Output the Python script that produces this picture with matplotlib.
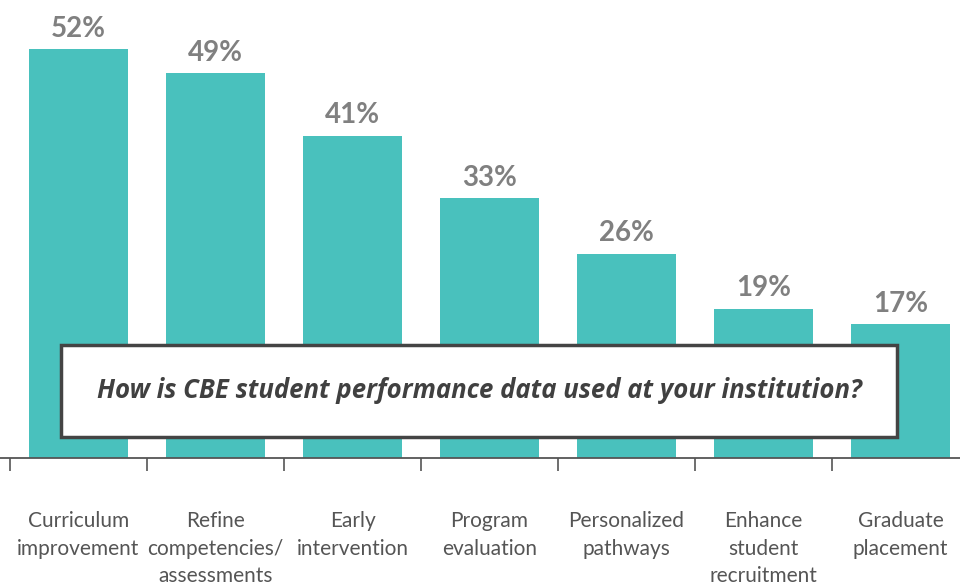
import matplotlib.pyplot as plt
from matplotlib.patches import Rectangle

categories = ["Curriculum\nimprovement", "Refine\ncompetencies/\nassessments", "Early\nintervention",
              "Program\nevaluation", "Personalized\npathways", "Enhance\nstudent\nrecruitment",
              "Graduate\nplacement"]
values = [52, 49, 41, 33, 26, 19, 17]
question = "How is CBE student performance data used at your institution?"

plt.rcParams['font.family'] = ['Lato', 'DejaVu Sans']

fig = plt.figure(figsize=(9.6, 5.84), dpi=100)
W, H = 960, 584
ax = fig.add_axes([0, (H - 458) / H, 1, 458 / H])

x = list(range(len(values)))
ax.bar(x, values, width=0.72, color="#49C1BD")

step = 137
ax.set_xlim(-0.5 - 10 / step, -0.5 + 950 / step)
ax.set_ylim(0, 458 / 7.865)

for xi, v in zip(x, values):
    ax.text(xi, v + 0.9, f"{v}%", ha="center", va="bottom", fontsize=20,
            fontweight="bold", color="#808080")

for s in ["top", "right", "left"]:
    ax.spines[s].set_visible(False)
ax.spines["bottom"].set_color("#555555")
ax.spines["bottom"].set_linewidth(1.3)
ax.set_yticks([])
ax.set_xticks([i - 0.5 for i in range(len(values))])
ax.set_xticklabels([])
ax.tick_params(axis="x", length=9, width=1.2, color="#555555")

for xi, lab in zip(x, categories):
    ax.text(xi, -6.8, lab, ha="center", va="top", fontsize=15, color="#555555",
            linespacing=1.44, clip_on=False)

# question box
fig.patches.append(Rectangle((61 / W, 1 - 437 / H), (897 - 61) / W, (437 - 345) / H,
                             transform=fig.transFigure, facecolor="white",
                             edgecolor="#444444", linewidth=2.5, zorder=5))
fig.text((61 + 897) / 2 / W, 1 - 391 / H, question, ha="center", va="center",
         fontsize=18.5, fontweight="bold", style="italic", color="#404040", zorder=6,
         family=["Open Sans", "DejaVu Sans"])

fig.savefig("out.png", dpi=100)
